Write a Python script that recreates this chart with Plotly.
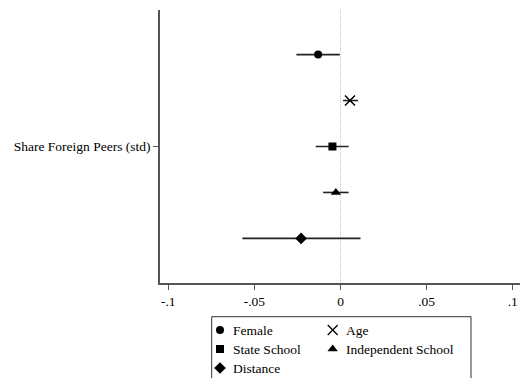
import plotly.graph_objects as go

# Coefficient estimates and 95% confidence bounds, one row per specification
labels = ["Female", "Age", "State School", "Independent School", "Distance"]
coef = [-0.0130, 0.0055, -0.0047, -0.0027, -0.0229]
ci_lo = [-0.0256, 0.0015, -0.0144, -0.0101, -0.0570]
ci_hi = [-0.0004, 0.0102, 0.0047, 0.0047, 0.0116]
symbols = ["circle", "x-thin-open", "square", "triangle-up", "diamond"]
sizes = [8, 10, 8, 9, 9]

# Vertical slots within the single regressor row (top to bottom)
offsets = [2, 1, 0, -1, -2]

x_ticks = [-0.1, -0.05, 0, 0.05, 0.1]
x_ticktext = ["-.1", "-.05", "0", ".05", ".1"]
row_label = "Share Foreign Peers (std)"

W, H = 521, 378
FONT = dict(family="Liberation Serif", size=13.5, color="black")
AXIS_COL = "#555555"

fig = go.Figure()

for i, name in enumerate(labels):
    is_x = symbols[i].startswith("x")
    fig.add_trace(go.Scatter(
        x=[coef[i]], y=[offsets[i]],
        mode="markers",
        name=name,
        showlegend=False,
        marker=dict(symbol=symbols[i], size=sizes[i], color="black",
                    line=dict(color="black", width=1.5 if is_x else 0)),
        error_x=dict(type="data", symmetric=False,
                     array=[ci_hi[i] - coef[i]],
                     arrayminus=[coef[i] - ci_lo[i]],
                     color="#222222", thickness=1.6, width=0),
        xaxis="x", yaxis="y",
    ))

# Legend keys drawn on a small auxiliary axis below the plot
leg_x0, leg_x1 = 211.7, 471.0
leg_top = 316.7
key_pos = [(8.3, 48), (121, 48), (8.3, 29), (121, 29), (8.3, 10)]
for i, name in enumerate(labels):
    kx, ky = key_pos[i]
    is_x = symbols[i].startswith("x")
    fig.add_trace(go.Scatter(
        x=[kx], y=[ky], mode="markers", showlegend=False, hoverinfo="skip",
        marker=dict(symbol=symbols[i], size=sizes[i], color="black",
                    line=dict(color="black", width=1.3 if is_x else 0)),
        xaxis="x2", yaxis="y2",
    ))
    fig.add_annotation(x=kx + 11, y=ky, xref="x2", yref="y2", text=name,
                       showarrow=False, xanchor="left", yanchor="middle",
                       font=FONT)

# Legend frame (runs past the lower edge of the page)
fig.add_shape(type="rect", xref="paper", yref="paper",
              x0=leg_x0 / W, x1=leg_x1 / W, y0=-0.05, y1=(H - leg_top) / H,
              line=dict(color="#333333", width=1), fillcolor="rgba(0,0,0,0)")

# Reference line at zero
fig.add_shape(type="line", xref="x", yref="paper",
              x0=0, x1=0, y0=(H - 283) / H, y1=(H - 10) / H,
              line=dict(color="rgb(238,175,200)", width=1, dash="1px,1px"),
              layer="below")

fig.update_layout(
    width=W, height=H,
    margin=dict(l=0, r=0, t=0, b=0),
    paper_bgcolor="white", plot_bgcolor="white",
    font=FONT,
    showlegend=False,
    xaxis=dict(domain=[160 / W, 520 / W], range=[-0.1048, 0.1042],
               tickvals=x_ticks, ticktext=x_ticktext,
               showgrid=False, zeroline=False,
               showline=True, linecolor=AXIS_COL, linewidth=1.5,
               ticks="outside", ticklen=5, tickcolor=AXIS_COL, tickwidth=1,
               tickfont=FONT, automargin=False),
    yaxis=dict(domain=[(H - 283) / H, (H - 10) / H], range=[-2.97, 2.97],
               tickvals=[0], ticktext=[row_label],
               showgrid=False, zeroline=False,
               showline=True, linecolor=AXIS_COL, linewidth=1.5,
               ticks="outside", ticklen=5, tickcolor=AXIS_COL, tickwidth=1,
               tickfont=FONT, automargin=False),
    xaxis2=dict(domain=[leg_x0 / W, leg_x1 / W], range=[0, leg_x1 - leg_x0],
                visible=False, anchor="y2"),
    yaxis2=dict(domain=[0, (H - leg_top) / H], range=[0, H - leg_top],
                visible=False, anchor="x2"),
)

fig.write_html("out.html")
